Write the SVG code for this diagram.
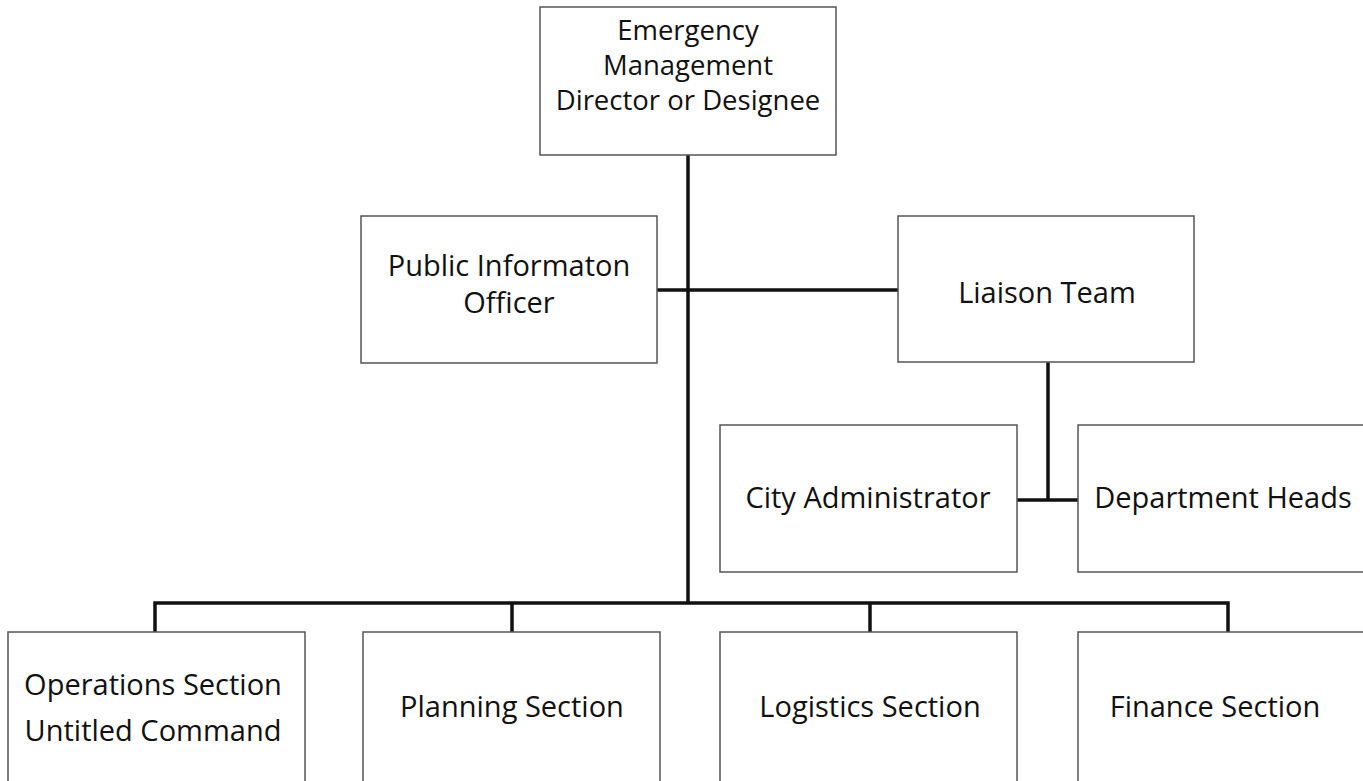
<svg xmlns="http://www.w3.org/2000/svg" width="1363" height="781" viewBox="0 0 1363 781">
  <style>
    .box { fill: #ffffff; stroke: #555555; stroke-width: 1.5; }
    .lbl { font-family: "Open Sans", "Noto Sans", sans-serif; font-size: 29px; fill: #111111; text-anchor: middle; }
    .tight { font-size: 27.5px; }
    .wire { fill: none; stroke: #111111; stroke-width: 3.5; }
  </style>
  <rect width="1363" height="781" fill="#ffffff"/>

  <g id="connectors">
    <!-- trunk from the director down to the section bar -->
    <line class="wire" x1="688" y1="155" x2="688" y2="603"/>
    <!-- staff branch -->
    <line class="wire" x1="657" y1="290" x2="898" y2="290"/>
    <!-- liaison branch -->
    <line class="wire" x1="1048" y1="362" x2="1048" y2="500"/>
    <line class="wire" x1="1017" y1="500" x2="1078" y2="500"/>
    <!-- section bar and drops -->
    <polyline class="wire" points="155,632 155,603 1228,603 1228,632"/>
    <line class="wire" x1="512" y1="603" x2="512" y2="632"/>
    <line class="wire" x1="870" y1="603" x2="870" y2="632"/>
  </g>

  <g id="director">
    <rect class="box" x="540" y="7" width="296" height="148"/>
    <text class="lbl tight" x="688" y="40">Emergency</text>
    <text class="lbl tight" x="688" y="75">Management</text>
    <text class="lbl tight" x="688" y="110">Director or Designee</text>
  </g>

  <g id="public-information">
    <rect class="box" x="361" y="216" width="296" height="147"/>
    <text class="lbl" x="509" y="276">Public Informaton</text>
    <text class="lbl" x="509" y="313">Officer</text>
  </g>

  <g id="liaison">
    <rect class="box" x="898" y="216" width="296" height="146"/>
    <text class="lbl" x="1047" y="303">Liaison Team</text>
  </g>

  <g id="city-administrator">
    <rect class="box" x="720" y="425" width="297" height="147"/>
    <text class="lbl" x="868" y="508">City Administrator</text>
  </g>

  <g id="department-heads">
    <rect class="box" x="1078" y="425" width="300" height="147"/>
    <text class="lbl" x="1223" y="508">Department Heads</text>
  </g>

  <g id="operations">
    <rect class="box" x="8" y="632" width="297" height="160"/>
    <text class="lbl" x="153" y="695">Operations Section</text>
    <text class="lbl" x="153" y="741">Untitled Command</text>
  </g>

  <g id="planning">
    <rect class="box" x="363" y="632" width="297" height="160"/>
    <text class="lbl" x="512" y="717">Planning Section</text>
  </g>

  <g id="logistics">
    <rect class="box" x="720" y="632" width="297" height="160"/>
    <text class="lbl" x="870" y="717">Logistics Section</text>
  </g>

  <g id="finance">
    <rect class="box" x="1078" y="632" width="300" height="160"/>
    <text class="lbl" x="1215" y="717">Finance Section</text>
  </g>
</svg>
